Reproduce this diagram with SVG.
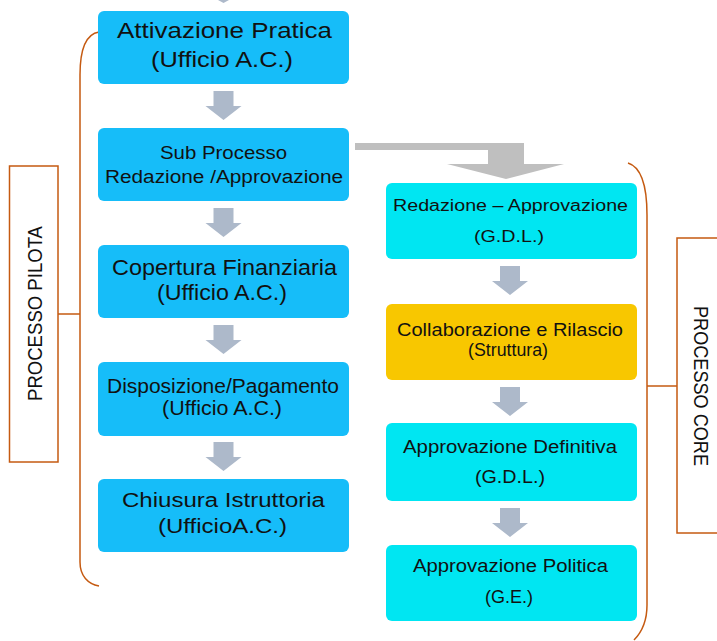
<svg xmlns="http://www.w3.org/2000/svg" xmlns:xlink="http://www.w3.org/1999/xlink" width="717" height="641" viewBox="0 0 717 641">
  <style>
    .pilot { fill: #16BDF9; }
    .core { fill: #00E6F2; }
    .gold { fill: #F8C700; }
    .lbl { font-family: "Liberation Sans", Arial, sans-serif; fill: #111111; text-anchor: middle; }
    .side { font-family: "Liberation Sans", Arial, sans-serif; fill: #111111; text-anchor: middle; font-size: 21px; }
    .brace { fill: none; stroke: #C55A11; stroke-width: 1.5; }
    .frame { fill: #FFFFFF; stroke: #C55A11; stroke-width: 1.5; }
    .step { fill: #ADB9CA; }
  </style>
  <defs>
    <!-- short block arrow pointing down, origin at top centre of the shaft -->
    <path id="down" d="M-10,0 H10 V15 H18 L0,29 L-18,15 H-10 Z"/>
  </defs>

  <rect width="717" height="641" fill="#FFFFFF"/>

  <!-- side labels and braces -->
  <g id="processo-pilota">
    <rect class="frame" x="9.5" y="166" width="48.5" height="296"/>
    <text class="side" transform="translate(41.5,313.5) rotate(-90)" textLength="175" lengthAdjust="spacingAndGlyphs">PROCESSO PILOTA</text>
  </g>
  <g id="processo-core">
    <rect class="frame" x="677" y="238" width="60" height="295"/>
    <text class="side" transform="translate(694,386) rotate(90)" textLength="160" lengthAdjust="spacingAndGlyphs">PROCESSO CORE</text>
  </g>

  <g id="connectors">
    <!-- braces grouping each column -->
    <path class="brace" d="M99,32 C86,34 80,50 80,75 L80,562 C80,576 88,584 99,586"/>
    <line class="brace" x1="58" y1="314" x2="80" y2="314"/>
    <path class="brace" d="M628,163 C641,167 647,185 647,215 L647,605 C647,622 641,633 634,640"/>
    <line class="brace" x1="647" y1="386" x2="677" y2="386"/>

    <!-- incoming flow at the top edge -->
    <polygon class="step" points="218,0 229,0 223.5,3"/>

    <!-- left column steps -->
    <use xlink:href="#down" class="step" x="223.5" y="91"/>
    <use xlink:href="#down" class="step" x="223.5" y="208"/>
    <use xlink:href="#down" class="step" x="223.5" y="325"/>
    <use xlink:href="#down" class="step" x="223.5" y="442"/>

    <!-- branch into the core process -->
    <polygon fill="#BFBFBF" points="355,143 524,143 524,164 564,164 506,179 447,164 488,164 488,150 355,150"/>

    <!-- right column steps -->
    <use xlink:href="#down" class="step" x="510" y="266"/>
    <use xlink:href="#down" class="step" x="510" y="387"/>
    <use xlink:href="#down" class="step" x="510" y="508"/>
  </g>

  <!-- pilot process column -->
  <g id="attivazione">
    <rect class="pilot" x="98" y="11" width="251" height="73" rx="6"/>
    <text class="lbl" x="224.5" y="38" font-size="22.5" textLength="215" lengthAdjust="spacingAndGlyphs">Attivazione Pratica</text>
    <text class="lbl" x="222" y="67" font-size="22.5" textLength="142" lengthAdjust="spacingAndGlyphs">(Ufficio A.C.)</text>
  </g>
  <g id="sub-processo">
    <rect class="pilot" x="98" y="128" width="251" height="73" rx="6"/>
    <text class="lbl" x="223.5" y="159" font-size="18" textLength="127" lengthAdjust="spacingAndGlyphs">Sub Processo</text>
    <text class="lbl" x="224" y="183" font-size="18" textLength="238" lengthAdjust="spacingAndGlyphs">Redazione /Approvazione</text>
  </g>
  <g id="copertura">
    <rect class="pilot" x="98" y="245" width="251" height="73" rx="6"/>
    <text class="lbl" x="224.5" y="275" font-size="21.5" textLength="225" lengthAdjust="spacingAndGlyphs">Copertura Finanziaria</text>
    <text class="lbl" x="222" y="300" font-size="21.5" textLength="130" lengthAdjust="spacingAndGlyphs">(Ufficio A.C.)</text>
  </g>
  <g id="disposizione">
    <rect class="pilot" x="98" y="362" width="251" height="74" rx="6"/>
    <text class="lbl" x="223" y="393" font-size="20" textLength="232" lengthAdjust="spacingAndGlyphs">Disposizione/Pagamento</text>
    <text class="lbl" x="222" y="415" font-size="20" textLength="120" lengthAdjust="spacingAndGlyphs">(Ufficio A.C.)</text>
  </g>
  <g id="chiusura">
    <rect class="pilot" x="98" y="479" width="251" height="73" rx="6"/>
    <text class="lbl" x="223.5" y="507" font-size="20" textLength="203" lengthAdjust="spacingAndGlyphs">Chiusura Istruttoria</text>
    <text class="lbl" x="222.5" y="533" font-size="20" textLength="129" lengthAdjust="spacingAndGlyphs">(UfficioA.C.)</text>
  </g>

  <!-- core process column -->
  <g id="redazione">
    <rect class="core" x="386" y="183" width="251" height="76" rx="6"/>
    <text class="lbl" x="510.5" y="211" font-size="16" textLength="235" lengthAdjust="spacingAndGlyphs">Redazione – Approvazione</text>
    <text class="lbl" x="509" y="242" font-size="16" textLength="70" lengthAdjust="spacingAndGlyphs">(G.D.L.)</text>
  </g>
  <g id="collaborazione">
    <rect class="gold" x="386" y="304" width="251" height="76" rx="6"/>
    <text class="lbl" x="510" y="336" font-size="17.5" textLength="226" lengthAdjust="spacingAndGlyphs">Collaborazione e Rilascio</text>
    <text class="lbl" x="508" y="356" font-size="17.5" textLength="80" lengthAdjust="spacingAndGlyphs">(Struttura)</text>
  </g>
  <g id="approvazione-definitiva">
    <rect class="core" x="386" y="423" width="251" height="78" rx="6"/>
    <text class="lbl" x="510" y="453" font-size="17.5" textLength="214" lengthAdjust="spacingAndGlyphs">Approvazione Definitiva</text>
    <text class="lbl" x="510" y="483" font-size="17.5" textLength="70" lengthAdjust="spacingAndGlyphs">(G.D.L.)</text>
  </g>
  <g id="approvazione-politica">
    <rect class="core" x="386" y="545" width="251" height="76" rx="6"/>
    <text class="lbl" x="510.5" y="572" font-size="17.5" textLength="195" lengthAdjust="spacingAndGlyphs">Approvazione Politica</text>
    <text class="lbl" x="509" y="603" font-size="17.5" textLength="48" lengthAdjust="spacingAndGlyphs">(G.E.)</text>
  </g>
</svg>
